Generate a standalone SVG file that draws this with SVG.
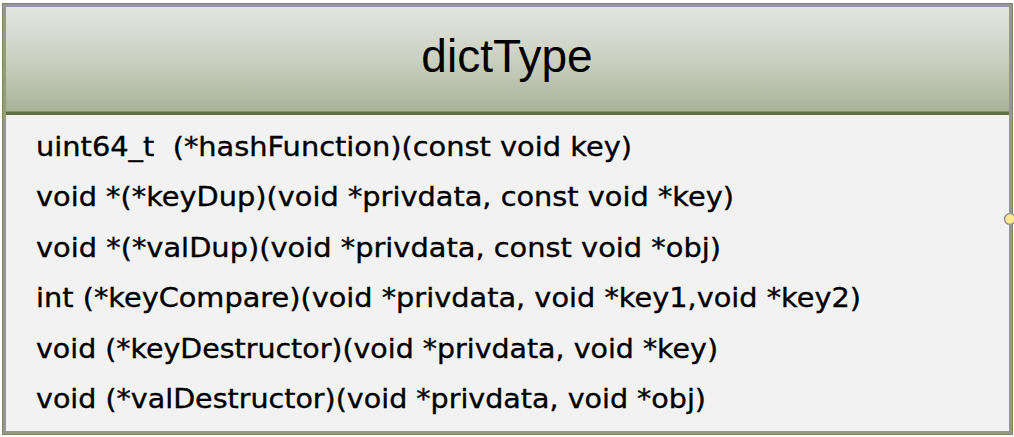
<svg xmlns="http://www.w3.org/2000/svg" width="1014" height="437" viewBox="0 0 1014 437">
  <defs>
    <linearGradient id="headFill" x1="0" y1="0" x2="0" y2="1">
      <stop offset="0" stop-color="#e3e5df"/>
      <stop offset="0.5" stop-color="#cbd0c1"/>
      <stop offset="1" stop-color="#a7b298"/>
    </linearGradient>
    <style>
      .field { font-family: "DejaVu Sans", "Liberation Sans", sans-serif; font-size: 26px; fill: #000; stroke: #000; stroke-width: 0.35px; white-space: pre; }
      .title { font-family: "Liberation Sans", Arial, sans-serif; font-size: 46px; fill: #000; }
    </style>
  </defs>
  <rect x="0" y="0" width="1014" height="437" fill="#ffffff"/>
  <g id="dictType">
    <!-- outer frame -->
    <rect x="2.5" y="3.5" width="1010" height="431" fill="#f2f2f2" stroke="#7a8a5c" stroke-width="1"/>
    <rect x="4.5" y="5.5" width="1006" height="427" fill="none" stroke="#969696" stroke-width="3"/>
    <!-- header -->
    <rect x="6" y="7" width="1003" height="105" fill="url(#headFill)"/>
    <rect x="6" y="111.5" width="1003" height="3.5" fill="#5f7045"/>
    <text class="title" x="507" y="72" text-anchor="middle">dictType</text>
    <!-- fields -->
    <text class="field" x="36" y="155.5" textLength="596" lengthAdjust="spacingAndGlyphs" xml:space="preserve">uint64_t  (*hashFunction)(const void key)</text>
    <text class="field" x="36" y="206" textLength="698" lengthAdjust="spacingAndGlyphs">void *(*keyDup)(void *privdata, const void *key)</text>
    <text class="field" x="36" y="256.5" textLength="685" lengthAdjust="spacingAndGlyphs">void *(*valDup)(void *privdata, const void *obj)</text>
    <text class="field" x="36" y="307" textLength="825" lengthAdjust="spacingAndGlyphs">int (*keyCompare)(void *privdata, void *key1,void *key2)</text>
    <text class="field" x="36" y="357.5" textLength="682" lengthAdjust="spacingAndGlyphs">void (*keyDestructor)(void *privdata, void *key)</text>
    <text class="field" x="36" y="408" textLength="670" lengthAdjust="spacingAndGlyphs">void (*valDestructor)(void *privdata, void *obj)</text>
    <!-- connection point -->
    <circle cx="1010" cy="219" r="5.5" fill="#ffe98f" stroke="#969696" stroke-width="1.5"/>
  </g>
</svg>
